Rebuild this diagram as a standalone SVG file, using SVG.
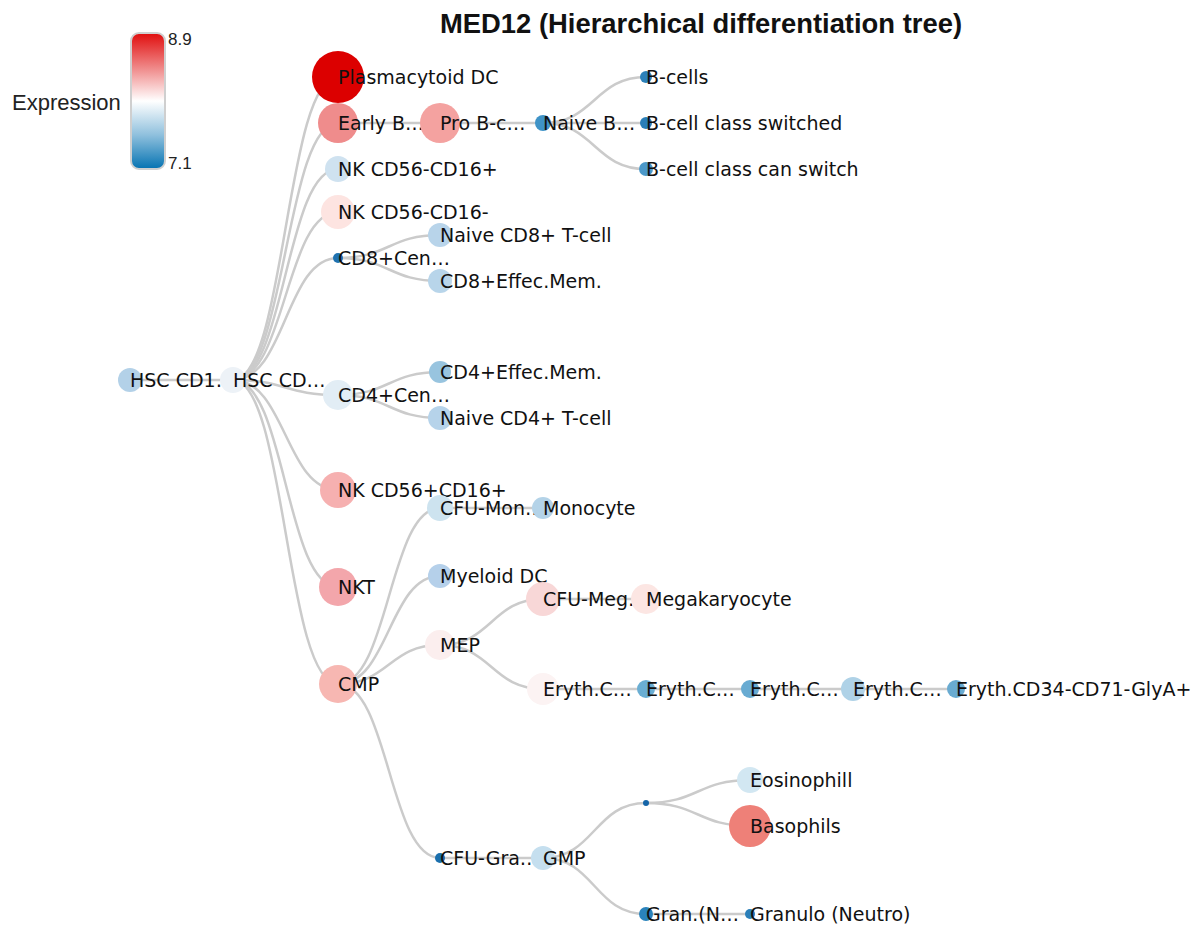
<svg xmlns="http://www.w3.org/2000/svg" width="1202" height="930" viewBox="0 0 1202 930">
<style>
.link{fill:none;stroke:#cbcbcb;stroke-width:2.5}
.node text{font-family:"DejaVu Sans",Verdana,sans-serif;font-size:19px;fill:#111}
.title{font-family:"Liberation Sans",Arial,sans-serif;font-weight:bold;font-size:27.4px;fill:#111}
.leg{font-family:"Liberation Sans",Arial,sans-serif;fill:#222}
</style>
<defs>
<linearGradient id="grad" x1="0" y1="0" x2="0" y2="1">
<stop offset="0" stop-color="#e00d0d"/>
<stop offset="0.25" stop-color="#ef8585"/>
<stop offset="0.5" stop-color="#ffffff"/>
<stop offset="0.75" stop-color="#8fc0dd"/>
<stop offset="1" stop-color="#0573b2"/>
</linearGradient>
</defs>
<rect width="1202" height="930" fill="#ffffff"/>
<text class="title" x="701" y="33" text-anchor="middle">MED12 (Hierarchical differentiation tree)</text>
<g id="legend">
<text class="leg" x="12" y="110" font-size="22">Expression</text>
<rect x="131" y="33" width="34" height="136" rx="8" fill="url(#grad)" stroke="#cfcfcf" stroke-width="2"/>
<text class="leg" x="168" y="45" font-size="17">8.9</text>
<text class="leg" x="168" y="169" font-size="17">7.1</text>
</g>
<g id="links">
<path class="link" d="M130,380 C181.5,380 181.5,380 233,380"/>
<path class="link" d="M233,380 C285.5,380 285.5,77 338,77"/>
<path class="link" d="M233,380 C285.5,380 285.5,123 338,123"/>
<path class="link" d="M233,380 C285.5,380 285.5,169 338,169"/>
<path class="link" d="M233,380 C285.5,380 285.5,212 338,212"/>
<path class="link" d="M233,380 C285.5,380 285.5,258 338,258"/>
<path class="link" d="M233,380 C285.5,380 285.5,395 338,395"/>
<path class="link" d="M233,380 C285.5,380 285.5,490 338,490"/>
<path class="link" d="M233,380 C285.5,380 285.5,587 338,587"/>
<path class="link" d="M233,380 C285.5,380 285.5,684 338,684"/>
<path class="link" d="M338,123 C389,123 389,123 440,123"/>
<path class="link" d="M338,258 C389,258 389,235 440,235"/>
<path class="link" d="M338,258 C389,258 389,281 440,281"/>
<path class="link" d="M338,395 C389,395 389,372 440,372"/>
<path class="link" d="M338,395 C389,395 389,418 440,418"/>
<path class="link" d="M338,684 C389,684 389,508 440,508"/>
<path class="link" d="M338,684 C389,684 389,576 440,576"/>
<path class="link" d="M338,684 C389,684 389,645 440,645"/>
<path class="link" d="M338,684 C389,684 389,858 440,858"/>
<path class="link" d="M440,123 C491.5,123 491.5,123 543,123"/>
<path class="link" d="M440,508 C491.5,508 491.5,508 543,508"/>
<path class="link" d="M440,645 C491.5,645 491.5,599 543,599"/>
<path class="link" d="M440,645 C491.5,645 491.5,689 543,689"/>
<path class="link" d="M440,858 C491.5,858 491.5,858 543,858"/>
<path class="link" d="M543,123 C594.5,123 594.5,77 646,77"/>
<path class="link" d="M543,123 C594.5,123 594.5,123 646,123"/>
<path class="link" d="M543,123 C594.5,123 594.5,169 646,169"/>
<path class="link" d="M543,599 C594.5,599 594.5,599 646,599"/>
<path class="link" d="M543,689 C594.5,689 594.5,689 646,689"/>
<path class="link" d="M543,858 C594.5,858 594.5,803 646,803"/>
<path class="link" d="M543,858 C594.5,858 594.5,914 646,914"/>
<path class="link" d="M646,689 C698,689 698,689 750,689"/>
<path class="link" d="M646,803 C698,803 698,780 750,780"/>
<path class="link" d="M646,803 C698,803 698,826 750,826"/>
<path class="link" d="M646,914 C698,914 698,914 750,914"/>
<path class="link" d="M750,689 C801.5,689 801.5,689 853,689"/>
<path class="link" d="M853,689 C904.5,689 904.5,689 956,689"/>
</g>
<g id="nodes">
<g class="node" id="n-hsc1"><circle cx="130" cy="380" r="12" fill="#b3d1e8"/><text x="130" y="387">HSC CD1…</text></g>
<g class="node" id="n-hsc2"><circle cx="233" cy="380" r="13" fill="#edf2f7"/><text x="233" y="387">HSC CD…</text></g>
<g class="node" id="n-pdc"><circle cx="338" cy="77" r="26" fill="#dc0000"/><text x="338" y="84">Plasmacytoid DC</text></g>
<g class="node" id="n-earlyb"><circle cx="338" cy="123" r="20" fill="#ef8c8c"/><text x="338" y="130">Early B…</text></g>
<g class="node" id="n-nk1"><circle cx="338" cy="169" r="13" fill="#cfe2f0"/><text x="338" y="176">NK CD56-CD16+</text></g>
<g class="node" id="n-nk2"><circle cx="338" cy="212" r="17" fill="#fde4e1"/><text x="338" y="219">NK CD56-CD16-</text></g>
<g class="node" id="n-cd8cen"><circle cx="338" cy="258" r="5" fill="#1f72b0"/><text x="338" y="265">CD8+Cen…</text></g>
<g class="node" id="n-cd4cen"><circle cx="338" cy="395" r="15" fill="#e2edf5"/><text x="338" y="402">CD4+Cen…</text></g>
<g class="node" id="n-nk3"><circle cx="338" cy="490" r="18" fill="#f6b0b0"/><text x="338" y="497">NK CD56+CD16+</text></g>
<g class="node" id="n-nkt"><circle cx="338" cy="587" r="19" fill="#f3a6ab"/><text x="338" y="594">NKT</text></g>
<g class="node" id="n-cmp"><circle cx="338" cy="684" r="19" fill="#f7b7b2"/><text x="338" y="691">CMP</text></g>
<g class="node" id="n-prob"><circle cx="440" cy="123" r="20" fill="#f4a2a0"/><text x="440" y="130">Pro B-c…</text></g>
<g class="node" id="n-ncd8"><circle cx="440" cy="235" r="12" fill="#b8d4ea"/><text x="440" y="242">Naive CD8+ T-cell</text></g>
<g class="node" id="n-cd8em"><circle cx="440" cy="281" r="12" fill="#b8d5ea"/><text x="440" y="288">CD8+Effec.Mem.</text></g>
<g class="node" id="n-cd4em"><circle cx="440" cy="372" r="11" fill="#98c4df"/><text x="440" y="379">CD4+Effec.Mem.</text></g>
<g class="node" id="n-ncd4"><circle cx="440" cy="418" r="12" fill="#b6d3ea"/><text x="440" y="425">Naive CD4+ T-cell</text></g>
<g class="node" id="n-cfumon"><circle cx="440" cy="508" r="13" fill="#cde3ef"/><text x="440" y="515">CFU-Mon…</text></g>
<g class="node" id="n-mdc"><circle cx="440" cy="576" r="12" fill="#b5d0ea"/><text x="440" y="583">Myeloid DC</text></g>
<g class="node" id="n-mep"><circle cx="440" cy="645" r="15" fill="#fbeeee"/><text x="440" y="652">MEP</text></g>
<g class="node" id="n-cfugra"><circle cx="440" cy="858" r="5" fill="#1a6fad"/><text x="440" y="865">CFU-Gra…</text></g>
<g class="node" id="n-naiveb"><circle cx="543" cy="123" r="8" fill="#3f93c7"/><text x="543" y="130">Naive B…</text></g>
<g class="node" id="n-mono"><circle cx="543" cy="508" r="11" fill="#b4d3e8"/><text x="543" y="515">Monocyte</text></g>
<g class="node" id="n-cfumeg"><circle cx="543" cy="599" r="17" fill="#f8d7d7"/><text x="543" y="606">CFU-Meg…</text></g>
<g class="node" id="n-ery1"><circle cx="543" cy="689" r="16" fill="#fcf3f3"/><text x="543" y="696">Eryth.C…</text></g>
<g class="node" id="n-gmp"><circle cx="543" cy="858" r="12" fill="#c5dfef"/><text x="543" y="865">GMP</text></g>
<g class="node" id="n-bcells"><circle cx="646" cy="77" r="6" fill="#2c80b9"/><text x="646" y="84">B-cells</text></g>
<g class="node" id="n-bsw"><circle cx="646" cy="123" r="6" fill="#2a7eb8"/><text x="646" y="130">B-cell class switched</text></g>
<g class="node" id="n-bcan"><circle cx="646" cy="169" r="7" fill="#4b98c9"/><text x="646" y="176">B-cell class can switch</text></g>
<g class="node" id="n-mega"><circle cx="646" cy="599" r="15" fill="#fce6e3"/><text x="646" y="606">Megakaryocyte</text></g>
<g class="node" id="n-ery2"><circle cx="646" cy="689" r="9" fill="#6aaed3"/><text x="646" y="696">Eryth.C…</text></g>
<g class="node" id="n-blank"><circle cx="646" cy="803" r="3" fill="#1565a8"/></g>
<g class="node" id="n-gran"><circle cx="646" cy="914" r="7" fill="#2a83bc"/><text x="646" y="921">Gran.(N…</text></g>
<g class="node" id="n-ery3"><circle cx="750" cy="689" r="9" fill="#68abd2"/><text x="750" y="696">Eryth.C…</text></g>
<g class="node" id="n-eos"><circle cx="750" cy="780" r="13" fill="#d2e7f2"/><text x="750" y="787">Eosinophill</text></g>
<g class="node" id="n-baso"><circle cx="750" cy="826" r="21" fill="#ee8078"/><text x="750" y="833">Basophils</text></g>
<g class="node" id="n-granulo"><circle cx="750" cy="914" r="5" fill="#2b7fb9"/><text x="750" y="921">Granulo (Neutro)</text></g>
<g class="node" id="n-ery4"><circle cx="853" cy="689" r="12" fill="#afd2e7"/><text x="853" y="696">Eryth.C…</text></g>
<g class="node" id="n-ery5"><circle cx="956" cy="689" r="9" fill="#69abd1"/><text x="956" y="696">Eryth.CD34-CD71-GlyA+</text></g>
</g>
</svg>
